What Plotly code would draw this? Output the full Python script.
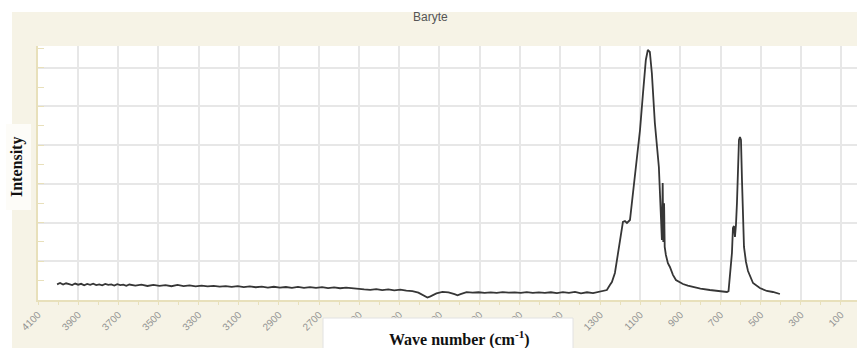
import plotly.graph_objects as go

# Raman spectrum of baryte: wave number (cm-1) and intensity (counts)
wave_number = [
    4005, 3990, 3975, 3960, 3945, 3930, 3915, 3900, 3885, 3870, 3855, 3840,
    3825, 3810, 3795, 3780, 3765, 3750, 3735, 3720, 3705, 3690, 3675, 3660,
    3645, 3615, 3585, 3555, 3525, 3495, 3465, 3435, 3405, 3375, 3345, 3315,
    3285, 3255, 3225, 3195, 3165, 3135, 3105, 3075, 3045, 3015, 2985, 2955,
    2925, 2895, 2865, 2835, 2805, 2775, 2745, 2715, 2685, 2655, 2625, 2595,
    2565, 2535, 2505, 2475, 2445, 2415, 2385, 2355, 2325, 2295, 2265, 2235,
    2205, 2175, 2160, 2145, 2115, 2085, 2055, 2025, 2010, 1995, 1965, 1935,
    1905, 1875, 1845, 1815, 1785, 1755, 1725, 1695, 1665, 1635, 1605, 1575,
    1545, 1515, 1485, 1455, 1425, 1395, 1365, 1335, 1305,
    1266, 1251, 1241, 1226, 1211, 1201, 1186, 1176, 1166, 1151, 1136, 1116,
    1101, 1086, 1072, 1062, 1052, 1042, 1027, 1007, 997, 992, 988, 985,
    981, 978, 972, 962, 952, 937, 922, 905, 887, 863, 838, 800, 753, 710,
    668, 660, 653, 643, 638, 633, 628, 623, 618, 608, 603, 598, 593, 588,
    583, 573, 563, 538, 504, 469, 439, 404,
]
intensity = [
    405, 440, 398, 432, 412, 386, 425, 395, 418, 380, 414, 392,
    420, 385, 404, 378, 415, 390, 402, 372, 410, 384, 398, 366,
    400, 370, 396, 362, 392, 366, 384, 356, 388, 360, 376, 350,
    372, 352, 366, 344, 360, 338, 356, 334, 350, 330, 346, 322,
    342, 318, 336, 316, 340, 314, 334, 312, 330, 306, 326, 304,
    320, 300, 296, 272, 262, 280, 254, 272, 250, 266, 244, 232,
    190, 110, 62, 95, 170, 212, 196, 150, 120, 150, 205, 188,
    200, 186, 198, 184, 202, 188, 196, 182, 204, 186, 198, 182,
    200, 176, 204, 184, 210, 172, 200, 180, 206,
    258, 388, 465, 698, 1163, 1550, 2016, 2041, 1990, 2067, 2765, 3540,
    4393, 5349, 6202, 6460, 6408, 5866, 4574, 3437, 2248, 1550, 3020, 1500,
    2500, 1370, 1163, 950, 853, 650, 517, 460, 413, 370, 336, 295, 258, 230,
    207, 230, 594, 1214, 1860, 1912, 1628, 1938, 2506, 4134, 4212, 4134, 3100, 2196,
    1370, 982, 749, 439, 310, 233, 207, 155,
]

tick_values = [4100, 3900, 3700, 3500, 3300, 3100, 2900, 2700, 2500, 2300, 2100,
               1900, 1700, 1500, 1300, 1100, 900, 700, 500, 300, 100]

W, H = 857, 348
ML, MR, MT, MB = 38, 0, 46, 48
PW, PH = W - ML - MR, H - MT - MB

BEIGE = "#f6f3e6"
AXIS_YELLOW = "#e8e0bb"
GRID = "#e7e7e7"


def px(x):
    return (x - ML) / PW


def py(y):
    return (H - MB - y) / PH


fig = go.Figure()
fig.add_trace(go.Scatter(
    x=wave_number, y=intensity, mode="lines",
    line=dict(color="#363636", width=1.8),
    showlegend=False, hoverinfo="x+y",
))

shapes = [
    # beige frame around the plot
    dict(type="rect", xref="paper", yref="paper", layer="below",
         x0=px(12), x1=px(W), y0=py(H), y1=py(12),
         fillcolor=BEIGE, line=dict(width=0)),
    # white plotting area
    dict(type="rect", xref="paper", yref="paper", layer="below",
         x0=0, x1=1, y0=0, y1=1, fillcolor="white", line=dict(width=0)),
    # pale box behind the y-axis title
    dict(type="rect", xref="paper", yref="paper", layer="above",
         x0=px(6), x1=px(31), y0=py(210), y1=py(124),
         fillcolor="#fdfcf8", line=dict(width=0)),
    # white box behind the x-axis title
    dict(type="rect", xref="paper", yref="paper", layer="above",
         x0=px(323), x1=px(573), y0=py(H + 4), y1=py(318),
         fillcolor="white", line=dict(color="#e2e2e2", width=1)),
]

annotations = [
    dict(text="Baryte", xref="paper", yref="paper", x=px(430), y=py(17),
         xanchor="center", yanchor="middle", showarrow=False,
         font=dict(family="Liberation Sans, Arial", size=12, color="#555555")),
    dict(text="<b>Wave number (cm<sup>-1</sup>)</b>", xref="paper", yref="paper",
         x=px(460), y=py(338), xanchor="center", yanchor="middle", showarrow=False,
         font=dict(family="Liberation Serif, Times New Roman", size=16, color="#111111")),
    dict(text="<b>Intensity</b>", xref="paper", yref="paper",
         x=px(17), y=py(167), xanchor="center", yanchor="middle", showarrow=False,
         textangle=-90,
         font=dict(family="Liberation Serif, Times New Roman", size=16, color="#111111")),
]

fig.update_layout(
    width=W, height=H,
    margin=dict(l=ML, r=MR, t=MT, b=MB, pad=0),
    paper_bgcolor="white", plot_bgcolor="white",
    shapes=shapes, annotations=annotations,
    showlegend=False,
    xaxis=dict(
        range=[4100, 20], tickmode="array", tickvals=tick_values,
        ticktext=[str(v) for v in tick_values], tickangle=-45,
        tickfont=dict(family="Liberation Sans, Arial", size=10, color="#939393"),
        showgrid=True, gridcolor=GRID, gridwidth=2,
        ticks="outside", ticklen=3, tickcolor=AXIS_YELLOW, tickwidth=1,
        showline=True, linecolor=AXIS_YELLOW, linewidth=2,
        minor=dict(dtick=100, tick0=100, ticks="outside", ticklen=3,
                   tickcolor=AXIS_YELLOW, showgrid=False),
        zeroline=False,
    ),
    yaxis=dict(
        range=[0, 6563], dtick=1000, tick0=0, showticklabels=False,
        showgrid=True, gridcolor=GRID, gridwidth=2,
        ticks="inside", ticklen=6, tickcolor=AXIS_YELLOW, tickwidth=1,
        showline=True, linecolor=AXIS_YELLOW, linewidth=2,
        minor=dict(dtick=500, ticks="inside", ticklen=6,
                   tickcolor=AXIS_YELLOW, showgrid=False),
        zeroline=False,
    ),
)

fig.write_html("out.html")
